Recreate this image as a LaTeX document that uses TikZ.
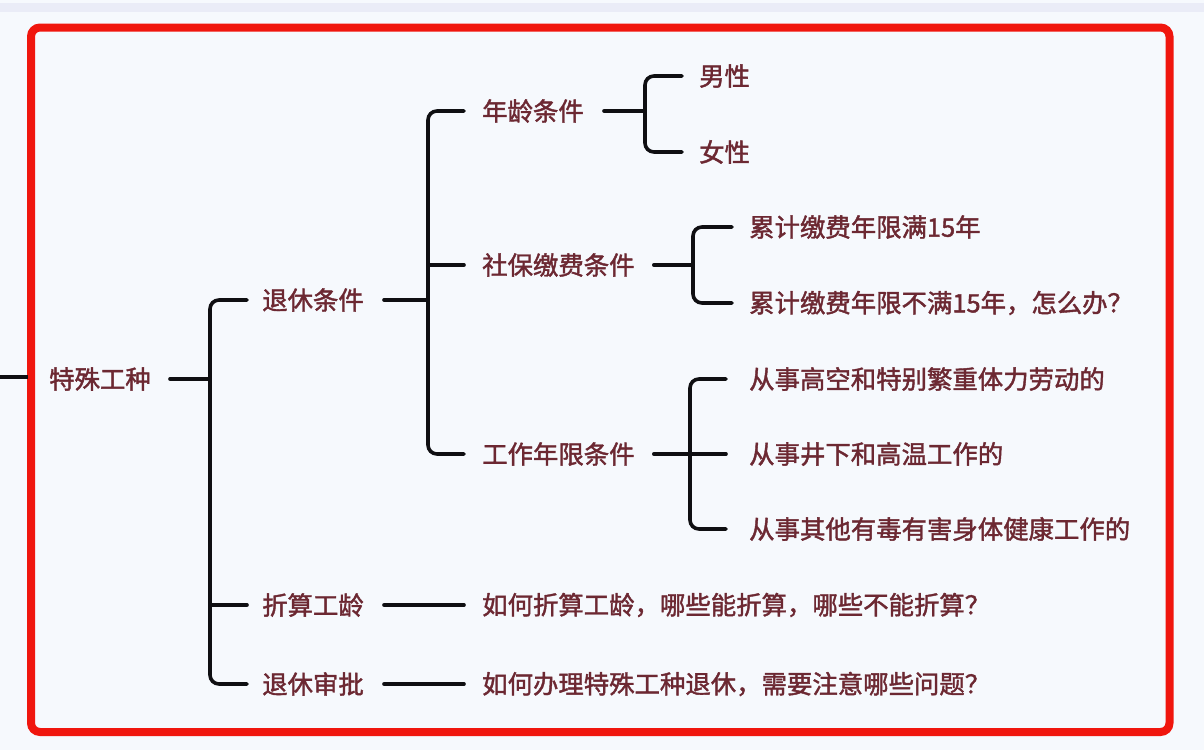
\documentclass[tikz,border=0pt]{standalone}
\usepackage{fontspec}
\newfontfamily\cjk[FakeBold=1.6]{Noto Sans CJK SC}
\usetikzlibrary{calc}
\definecolor{bg}{RGB}{246,249,253}
\definecolor{band}{RGB}{234,236,247}
\definecolor{frame}{RGB}{240,22,14}
\definecolor{txt}{RGB}{108,40,50}
\definecolor{ink}{RGB}{15,15,18}
\tikzset{
  lbl/.style={anchor=west, inner sep=0pt, text=txt, font=\cjk\fontsize{25.4}{26}\selectfont},
  ln/.style={draw=ink, line width=3.6pt, line cap=round},
  br/.style={ln, rounded corners=9pt},
}
\begin{document}
\begin{tikzpicture}[x=1pt,y=-1pt]
\useasboundingbox (0,0) rectangle (1204,750);
\fill[bg] (0,0) rectangle (1204,750);
\fill[band] (0,3) rectangle (1204,12);
% left stub
\coordinate (stub) at (0,377);
% frame
\draw[frame, line width=8pt, rounded corners=9pt] (31,27.5) rectangle (1169.5,732);

% nodes
\node[lbl] (root) at (49,379) {特殊工种};
\node[lbl] (tx) at (262,300) {退休条件};
\node[lbl] (zs) at (262,605) {折算工龄};
\node[lbl] (sp) at (262,684) {退休审批};
\node[lbl] (nl) at (482,111) {年龄条件};
\node[lbl] (sb) at (482,265) {社保缴费条件};
\node[lbl] (gz) at (482,454) {工作年限条件};
\node[lbl] (nan) at (699,76) {男性};
\node[lbl] (nv) at (699,152) {女性};
\node[lbl] (lj1) at (749,227) {累计缴费年限满15年};
\node[lbl] (lj2) at (749,303) {累计缴费年限不满15年，怎么办？};
\node[lbl] (cs1) at (749,379) {从事高空和特别繁重体力劳动的};
\node[lbl] (cs2) at (749,454) {从事井下和高温工作的};
\node[lbl] (cs3) at (749,529) {从事其他有毒有害身体健康工作的};
\node[lbl] (zsq) at (482,605) {如何折算工龄，哪些能折算，哪些不能折算？};
\node[lbl] (spq) at (482,684) {如何办理特殊工种退休，需要注意哪些问题？};

% bracket x positions
\coordinate (x0) at (210,0);
\coordinate (x1) at (428,0);
\coordinate (x2) at (645,0);
\coordinate (x3) at (693,0);
\coordinate (x4) at (690,0);

% stub into root (behind frame visually)
\draw[ln, line cap=butt] (stub) -- (stub -| 28,0);

% root
\draw[ln] ([xshift=19pt]root.east) -- (x0 |- root.east);
\draw[br] ([xshift=-15pt]tx.west) -- (x0 |- tx.west) -- (x0 |- sp.west) -- ([xshift=-15pt]sp.west);
\draw[ln] (x0 |- zs.west) -- ([xshift=-15pt]zs.west);

% 退休条件
\draw[ln] ([xshift=20pt]tx.east) -- (x1 |- tx.east);
\draw[br] ([xshift=-18pt]nl.west) -- (x1 |- nl.west) -- (x1 |- gz.west) -- ([xshift=-18pt]gz.west);
\draw[ln] (x1 |- sb.west) -- ([xshift=-18pt]sb.west);

% 年龄条件
\draw[ln] ([xshift=20pt]nl.east) -- (x2 |- nl.east);
\draw[br] ([xshift=-17pt]nan.west) -- (x2 |- nan.west) -- (x2 |- nv.west) -- ([xshift=-17pt]nv.west);

% 社保缴费条件
\draw[ln] ([xshift=19pt]sb.east) -- (x3 |- sb.east);
\draw[br] ([xshift=-17pt]lj1.west) -- (x3 |- lj1.west) -- (x3 |- lj2.west) -- ([xshift=-17pt]lj2.west);

% 工作年限条件
\draw[ln] ([xshift=19pt]gz.east) -- (x4 |- gz.east);
\draw[br] ([xshift=-23pt]cs1.west) -- (x4 |- cs1.west) -- (x4 |- cs3.west) -- ([xshift=-23pt]cs3.west);
\draw[ln] (x4 |- cs2.west) -- ([xshift=-23pt]cs2.west);

% leaves of 折算 / 审批
\draw[ln] ([xshift=20pt]zs.east) -- ([xshift=-18pt]zsq.west);
\draw[ln] ([xshift=20pt]sp.east) -- ([xshift=-18pt]spq.west);
\end{tikzpicture}
\end{document}
